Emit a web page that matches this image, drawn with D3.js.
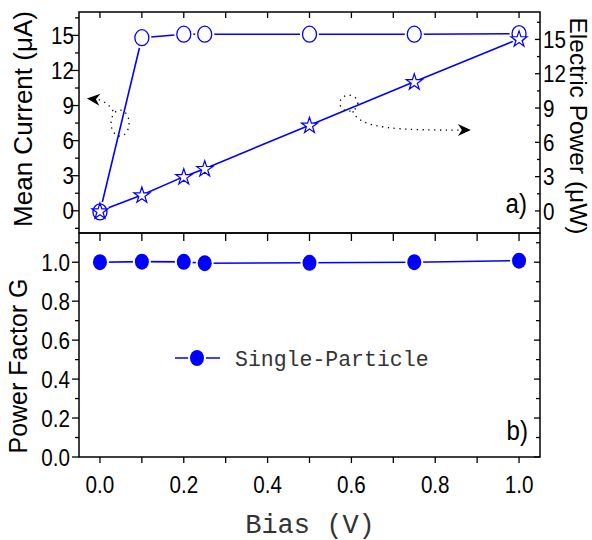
<!DOCTYPE html>
<html>
<head>
<meta charset="utf-8">
<script src="https://cdn.jsdelivr.net/npm/d3@7"></script>
<style>
  body { margin: 0; background: #fff; }
  svg { display: block; }
  .tick-label { font-family: "Liberation Sans", Arial, sans-serif; font-size: 24px; fill: #000; }
  .title { font-family: "Liberation Sans", Arial, sans-serif; font-size: 25px; fill: #000; }
  .mono { font-family: "Liberation Mono", "Courier New", monospace; fill: #333; }
</style>
</head>
<body>
<div id="chart"></div>
<script>
const width = 592;
const height = 540;

// data
const bias = [0.0, 0.1, 0.2, 0.25, 0.5, 0.75, 1.0];
const meanCurrent = [-0.1, 14.8, 15.1, 15.1, 15.1, 15.1, 15.15];   // uA, left axis
const electricPower = [0.0, 1.4, 3.0, 3.7, 7.5, 11.3, 15.05];     // uW, right axis
const powerFactor = [1.0, 1.003, 1.002, 0.995, 0.997, 1.0, 1.008];

const xTicks = [0.0, 0.2, 0.4, 0.6, 0.8, 1.0];
const xMinor = [0.1, 0.3, 0.5, 0.7, 0.9];
const topTicks = [0, 3, 6, 9, 12, 15];
const topMinor = [-1.5, 1.5, 4.5, 7.5, 10.5, 13.5, 16.5];
const botTicks = [0.0, 0.2, 0.4, 0.6, 0.8, 1.0];
const botMinor = [0.1, 0.3, 0.5, 0.7, 0.9, 1.1];

// annotation arrows (data coords, left axis of panel a)
const leftNote = { cx: 0.048, cy: 7.5, tipX: -0.031, tipY: 9.6 };
const rightNote = { cx: 0.594, cy: 9.2, tipX: 0.885, tipY: 6.9 };

const blue = "#0000ff";

const x = d3.scaleLinear().domain([-0.05, 1.05]).range([79, 540]);
const yCur = d3.scaleLinear().domain([-1.9, 17]).range([233, 12]);
const yPow = d3.scaleLinear().domain([-1.93, 17.4]).range([233, 12]);
const yG = d3.scaleLinear().domain([0, 1.15]).range([457, 233]);

const svg = d3.select("#chart").append("svg")
    .attr("width", width)
    .attr("height", height);

// ---- ticks helper (draws tick lines only)
function tickLines(g, vals, pos, len, orient) {
    vals.forEach(v => {
        const p = pos(v);
        if (orient === "h") {
            g.append("line").attr("x1", p).attr("x2", p).attr("y1", len[0]).attr("y2", len[1]);
        } else {
            g.append("line").attr("y1", p).attr("y2", p).attr("x1", len[0]).attr("x2", len[1]);
        }
    });
}

const axes = svg.append("g").attr("stroke", "#000").attr("stroke-width", 1.3);

// panel a) ticks
tickLines(axes, xTicks.concat(xMinor), x, [12, 18], "h");           // top, inward
tickLines(axes, topTicks, yCur, [71, 79], "v");                      // left major, outward
tickLines(axes, topMinor, yCur, [75, 79], "v");
tickLines(axes, topTicks, yPow, [535, 540], "v");                    // right, inward
tickLines(axes, topMinor, yPow, [537, 540], "v");

// panel b) ticks
tickLines(axes, xTicks.concat(xMinor), x, [233, 241], "h");          // top, inward
tickLines(axes, xTicks.concat(xMinor), x, [457, 463], "h");          // bottom, outward
tickLines(axes, botTicks, yG, [72, 79], "v");
tickLines(axes, botMinor, yG, [75, 79], "v");
tickLines(axes, botTicks, yG, [534, 540], "v");
tickLines(axes, botMinor, yG, [536, 540], "v");

// frames
svg.append("rect").attr("x", 79).attr("y", 12).attr("width", 461).attr("height", 221)
    .attr("fill", "none").attr("stroke", "#000").attr("stroke-width", 1.5);
svg.append("rect").attr("x", 79).attr("y", 233).attr("width", 461).attr("height", 224)
    .attr("fill", "none").attr("stroke", "#000").attr("stroke-width", 1.5);

// tick labels - squeezed a bit, the original font is narrow
const labels = svg.append("g").attr("class", "tick-label");
function narrow(px, py, txt, anchor, dy) {
    return labels.append("text")
        .attr("transform", `translate(${px},${py}) scale(0.86,1)`)
        .attr("dy", dy || 0)
        .attr("text-anchor", anchor)
        .text(txt);
}
topTicks.forEach(v => {
    narrow(74, yCur(v), v, "end", "0.36em");
    narrow(543, yPow(v), v, "start", "0.36em");
});
botTicks.forEach(v => narrow(70, yG(v), d3.format(".1f")(v), "end", "0.36em"));
xTicks.forEach(v => narrow(x(v), 493, d3.format(".1f")(v), "middle"));

// panel labels
narrow(527, 213, "a)", "end").style("font-size", "28px");
narrow(528, 440, "b)", "end").style("font-size", "28px");

// axis titles
svg.append("text").attr("class", "title")
    .attr("transform", "translate(32,119) rotate(-90)")
    .attr("text-anchor", "middle").style("font-size", "26px").text("Mean Current (\u03bcA)");
svg.append("text").attr("class", "title")
    .attr("transform", "translate(570,126) rotate(90)")
    .attr("text-anchor", "middle").style("font-size", "24.5px").text("Electric Power (\u03bcW)");
svg.append("text").attr("class", "title")
    .attr("transform", "translate(27,366) rotate(-90)")
    .attr("text-anchor", "middle").text("Power Factor G");
svg.append("text").attr("class", "mono")
    .attr("x", 310).attr("y", 533).attr("text-anchor", "middle")
    .style("font-size", "27px").text("Bias (V)");

// ---- data lines
const line = (ys, yScale) => d3.line()
    .x((d, i) => x(bias[i]))
    .y(d => yScale(d))(ys);

svg.append("path").attr("d", line(meanCurrent, yCur))
    .attr("fill", "none").attr("stroke", blue).attr("stroke-width", 1.6);
svg.append("path").attr("d", line(electricPower, yPow))
    .attr("fill", "none").attr("stroke", blue).attr("stroke-width", 1.6);
svg.append("path").attr("d", line(powerFactor, yG))
    .attr("fill", "none").attr("stroke", blue).attr("stroke-width", 1.6);

// open circles
const circ = svg.append("g");
circ.selectAll("ellipse.halo").data(meanCurrent).join("ellipse")
    .attr("cx", (d, i) => x(bias[i])).attr("cy", d => yCur(d))
    .attr("rx", 9.5).attr("ry", 10.5).attr("fill", "#fff");
circ.selectAll("ellipse.mk").data(meanCurrent).join("ellipse")
    .attr("cx", (d, i) => x(bias[i])).attr("cy", d => yCur(d))
    .attr("rx", 7).attr("ry", 8).attr("fill", "none")
    .attr("stroke", blue).attr("stroke-width", 1.3);

// stars
const star = d3.symbol(d3.symbolStar, 80);
svg.append("g").selectAll("path").data(electricPower).join("path")
    .attr("transform", (d, i) => `translate(${x(bias[i])},${yPow(d) + 0.5})`)
    .attr("d", star).attr("fill", "#fff")
    .attr("stroke", blue).attr("stroke-width", 1.2).attr("stroke-linejoin", "miter");

// filled ellipses, with a little white gap round them
const dots = svg.append("g");
dots.selectAll("ellipse").data(powerFactor).join("ellipse")
    .attr("cx", (d, i) => x(bias[i])).attr("cy", d => yG(d))
    .attr("rx", 7).attr("ry", 8).attr("fill", blue)
    .attr("stroke", "#fff").attr("stroke-width", 4).attr("paint-order", "stroke");

// legend
const lg = svg.append("g");
lg.append("line").attr("x1", 175).attr("x2", 220).attr("y1", 358).attr("y2", 358)
    .attr("stroke", blue).attr("stroke-width", 1.6);
lg.append("ellipse").attr("cx", 197).attr("cy", 358).attr("rx", 7).attr("ry", 8)
    .attr("fill", blue).attr("stroke", "#fff").attr("stroke-width", 4).attr("paint-order", "stroke");
lg.append("text").attr("class", "mono").attr("x", 235).attr("y", 366)
    .style("font-size", "21.5px").text("Single-Particle");

// ---- dotted arrows
const notes = svg.append("g");
function arrowHead(tx, ty, angle) {
    notes.append("path")
        .attr("d", "M0,0 L-13,-6 L-9,0 L-13,6 Z")
        .attr("transform", `translate(${tx},${ty}) rotate(${angle})`)
        .attr("fill", "#000");
}
const dotted = { stroke: "#000", "stroke-width": 1.3, "stroke-dasharray": "1.3 4.5", fill: "none" };
function applyAttrs(sel, attrs) { Object.entries(attrs).forEach(([k, v]) => sel.attr(k, v)); return sel; }

// left note
{
    const cx = x(leftNote.cx), cy = yCur(leftNote.cy);
    const tx = x(leftNote.tipX), ty = yCur(leftNote.tipY);
    applyAttrs(notes.append("ellipse").attr("cx", cx).attr("cy", cy).attr("rx", 9).attr("ry", 13), dotted);
    const p = d3.path();
    p.moveTo(cx - 7, cy - 12);
    p.quadraticCurveTo(cx - 14, cy - 24, tx + 4, ty);
    applyAttrs(notes.append("path").attr("d", p.toString()), dotted);
    arrowHead(tx, ty, 185);
}
// right note
{
    const cx = x(rightNote.cx), cy = yCur(rightNote.cy);
    const tx = x(rightNote.tipX), ty = yCur(rightNote.tipY);
    applyAttrs(notes.append("ellipse").attr("cx", cx).attr("cy", cy).attr("rx", 9).attr("ry", 8), dotted);
    const p = d3.path();
    p.moveTo(cx + 4, cy + 8);
    p.bezierCurveTo(cx + 10, cy + 26, cx + 50, ty, tx - 6, ty);
    applyAttrs(notes.append("path").attr("d", p.toString()), dotted);
    arrowHead(tx, ty, 0);
}
</script>
</body>
</html>
